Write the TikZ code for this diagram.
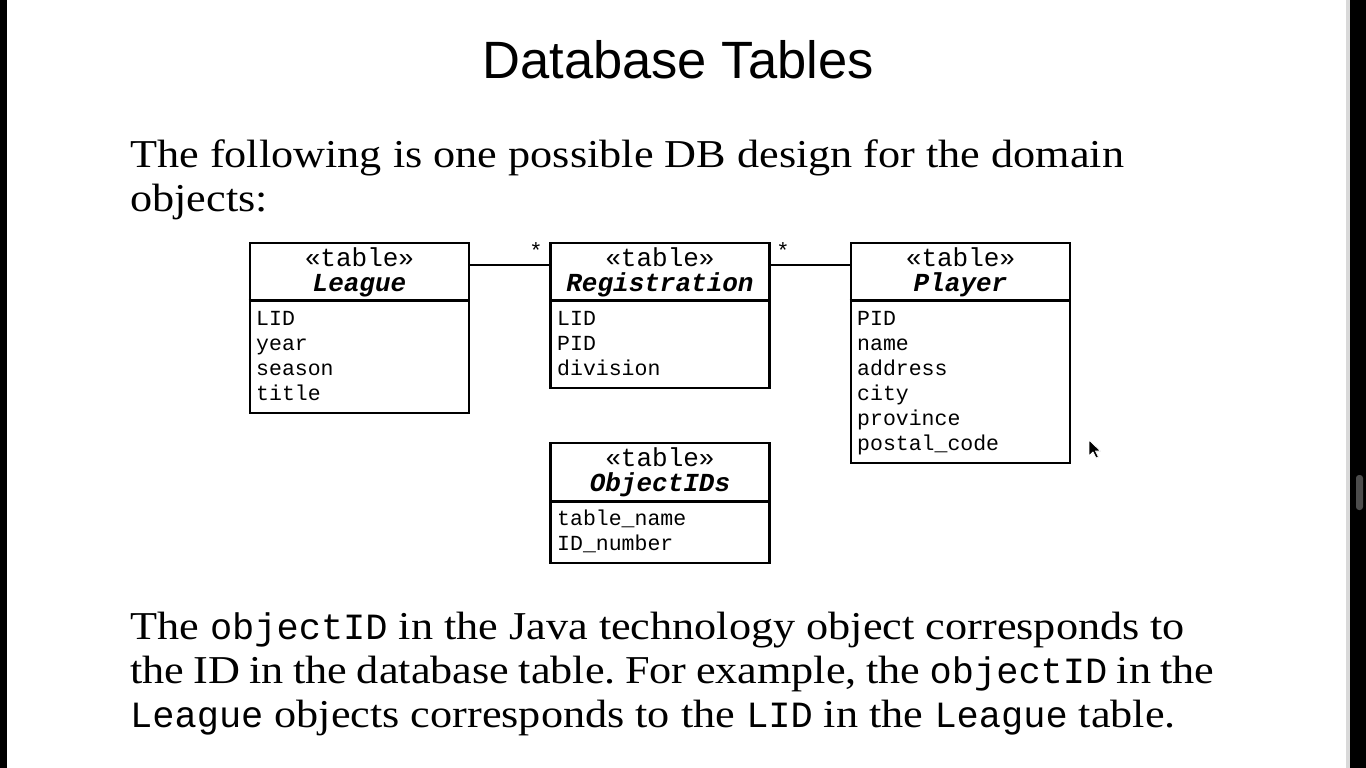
\documentclass[tikz,border=0pt]{standalone}
\usepackage{fontspec}
\newfontfamily\sansT{Liberation Sans}
\newfontfamily\serifB[FakeStretch=1.12]{Liberation Serif}
\newfontfamily\monoF{Liberation Mono}
\newcommand\mycode[1]{{\monoF\fontsize{37pt}{44pt}\selectfont #1}}
\frenchspacing
\begin{document}
\begin{tikzpicture}[x=1pt,y=-1pt,
  tbl/.style={draw=black,line width=2.6pt,fill=white,inner sep=0pt,minimum width=219pt},
  divline/.style={draw=black,line width=2.6pt},
  conn/.style={draw=black,line width=2.2pt},
  stereo/.style={inner sep=0pt,anchor=base,font=\monoF\fontsize{26pt}{28pt}\selectfont},
  tname/.style={inner sep=0pt,anchor=base,font=\monoF\bfseries\itshape\fontsize{26pt}{28pt}\selectfont},
  attr/.style={inner sep=0pt,anchor=base west,font=\monoF\fontsize{21.5pt}{25pt}\selectfont},
  mult/.style={inner sep=0pt,anchor=base,font=\monoF\fontsize{22pt}{24pt}\selectfont},
  bodyline/.style={inner sep=0pt,anchor=base west,font=\serifB\fontsize{39.5pt}{44pt}\selectfont},
  titletext/.style={inner sep=0pt,anchor=base,font=\sansT\fontsize{52.5pt}{60pt}\selectfont}
]
\useasboundingbox (0,0) rectangle (1366,768);
\fill[white] (0,0) rectangle (1366,768);
% screen bars
\fill[black] (0,0) rectangle (7,768);
\fill[black!15] (1346,0) rectangle (1350,768);
\fill[black] (1350,0) rectangle (1366,768);
\fill[black!70,rounded corners=3pt] (1356,475) rectangle (1363,510);

% title and text
\node[titletext] (title) at (678,78) {Database Tables};
\node[bodyline] (intro1) at (130,167) {The following is one possible DB design for the domain};
\node[bodyline] (intro2) at (130,211) {objects:};

\node[bodyline] (out1) at (130,639) {The \mycode{objectID} in the Java technology object corresponds to};
\node[bodyline] (out2) at (130,683) {\spaceskip=9.4pt\relax the ID in the database table. For example, the \mycode{objectID} in the};
\node[bodyline] (out3) at (130,727) {\mycode{League} objects corresponds to the \mycode{LID} in the \mycode{League} table.};

% League
\node[tbl,minimum height=170pt] (league) at (359.5,328) {};
\draw[divline] ([yshift=-59pt]league.north west) -- ([yshift=-59pt]league.north east);
\node[stereo] (leagueS) at (359.5,266) {«table»};
\node[tname] (leagueN) at (359.5,291) {League};
\node[attr] (lA1) at (256,325) {LID};
\node[attr] (lA2) at (256,350) {year};
\node[attr] (lA3) at (256,375) {season};
\node[attr] (lA4) at (256,400) {title};

% Registration
\node[tbl,minimum height=145pt] (reg) at (660,315.5) {};
\draw[divline] ([yshift=-59pt]reg.north west) -- ([yshift=-59pt]reg.north east);
\node[stereo] (regS) at (660,266) {«table»};
\node[tname] (regN) at (660,291) {Registration};
\node[attr] (rA1) at (557,325) {LID};
\node[attr] (rA2) at (557,350) {PID};
\node[attr] (rA3) at (557,375) {division};

% Player
\node[tbl,minimum height=220pt] (player) at (960.5,353) {};
\draw[divline] ([yshift=-59pt]player.north west) -- ([yshift=-59pt]player.north east);
\node[stereo] (playerS) at (960.5,266) {«table»};
\node[tname] (playerN) at (960.5,291) {Player};
\node[attr] (pA1) at (857,325) {PID};
\node[attr] (pA2) at (857,350) {name};
\node[attr] (pA3) at (857,375) {address};
\node[attr] (pA4) at (857,400) {city};
\node[attr] (pA5) at (857,425) {province};
\node[attr] (pA6) at (857,450) {postal\_code};

% ObjectIDs
\node[tbl,minimum height=120pt] (oids) at (660,503) {};
\draw[divline] ([yshift=-60pt]oids.north west) -- ([yshift=-60pt]oids.north east);
\node[stereo] (oidsS) at (660,466) {«table»};
\node[tname] (oidsN) at (660,491) {ObjectIDs};
\node[attr] (oA1) at (557,525) {table\_name};
\node[attr] (oA2) at (557,550) {ID\_number};

% connectors
\draw[conn] ([yshift=-23pt]league.north east) -- ([yshift=-23pt]reg.north west);
\draw[conn] ([yshift=-23pt]reg.north east) -- ([yshift=-23pt]player.north west);
\node[mult] (m1) at (536,258) {*};
\node[mult] (m2) at (783,258) {*};

% mouse cursor
\filldraw[fill=black,draw=white,line width=0.8pt,line join=round]
  (1089,440) -- (1089,456) -- (1093,452) -- (1096,458) -- (1098.5,457) -- (1095.5,451) -- (1100.5,451) -- cycle;
\end{tikzpicture}
\end{document}
